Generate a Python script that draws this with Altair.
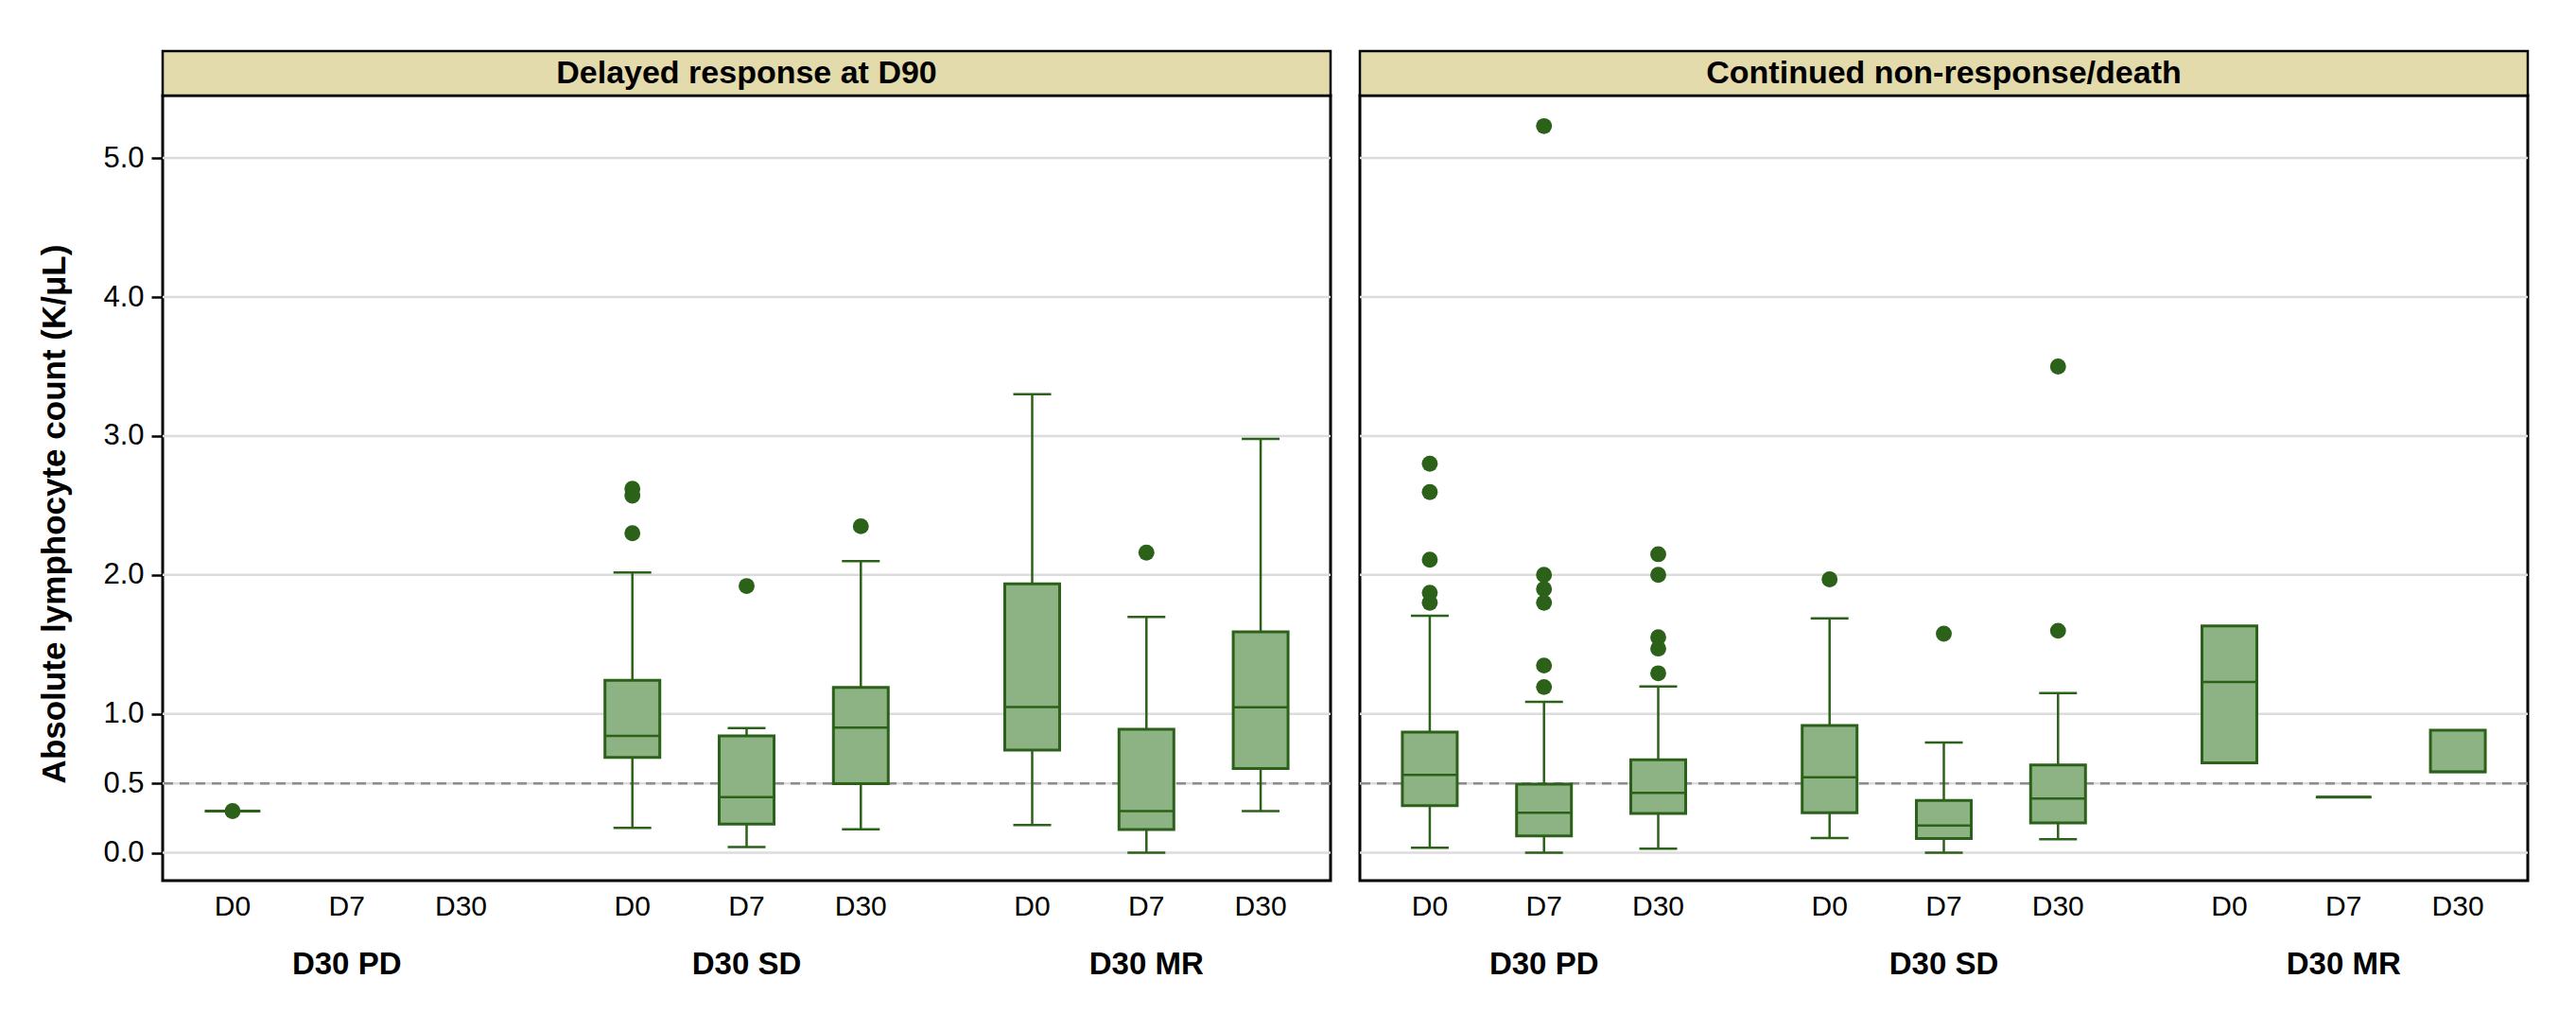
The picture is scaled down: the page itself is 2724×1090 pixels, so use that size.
import altair as alt
import pandas as pd

FONT = "Liberation Sans"
GROUPS = ["D30 PD", "D30 SD", "D30 MR"]
DAYS = ["D0", "D7", "D30"]
PANEL_TITLES = ["Delayed response at D90", "Continued non-response/death"]
Y_TICKS = [0.0, 0.5, 1.0, 2.0, 3.0, 4.0, 5.0]
THRESHOLD = [0.5]

# ---- Panel 1: Delayed response at D90 (box summaries) ----
P1_GROUP = ["D30 PD", "D30 SD", "D30 SD", "D30 SD", "D30 MR", "D30 MR", "D30 MR"]
P1_DAY = ["D0", "D0", "D7", "D30", "D0", "D7", "D30"]
P1_LO = [None, 0.18, 0.042, 0.17, 0.20, 0.0, 0.30]
P1_Q1 = [0.30, 0.687, 0.206, 0.497, 0.74, 0.167, 0.607]
P1_MED = [0.30, 0.841, 0.40, 0.901, 1.049, 0.30, 1.047]
P1_Q3 = [0.30, 1.242, 0.841, 1.19, 1.935, 0.89, 1.591]
P1_HI = [None, 2.018, 0.898, 2.099, 3.30, 1.698, 2.979]
P1_OUT_GROUP = ["D30 PD", "D30 SD", "D30 SD", "D30 SD", "D30 SD", "D30 SD", "D30 MR"]
P1_OUT_DAY = ["D0", "D0", "D0", "D0", "D7", "D30", "D7"]
P1_OUT = [0.30, 2.62, 2.57, 2.30, 1.92, 2.35, 2.16]

# ---- Panel 2: Continued non-response/death (box summaries) ----
P2_GROUP = ["D30 PD", "D30 PD", "D30 PD", "D30 SD", "D30 SD", "D30 SD", "D30 MR", "D30 MR", "D30 MR"]
P2_DAY = ["D0", "D7", "D30", "D0", "D7", "D30", "D0", "D7", "D30"]
P2_LO = [0.037, 0.0, 0.03, 0.107, 0.0, 0.098, None, None, None]
P2_Q1 = [0.34, 0.122, 0.284, 0.288, 0.103, 0.216, 0.647, 0.40, 0.583]
P2_MED = [0.561, 0.288, 0.432, 0.543, 0.196, 0.39, 1.23, 0.40, 0.583]
P2_Q3 = [0.868, 0.495, 0.67, 0.916, 0.377, 0.633, 1.632, 0.40, 0.883]
P2_HI = [1.706, 1.086, 1.198, 1.688, 0.794, 1.149, None, None, None]
P2_OUT_GROUP = ["D30 PD"] * 5 + ["D30 PD"] * 6 + ["D30 PD"] * 5 + ["D30 SD", "D30 SD", "D30 SD", "D30 SD"]
P2_OUT_DAY = ["D0"] * 5 + ["D7"] * 6 + ["D30"] * 5 + ["D0", "D7", "D30", "D30"]
P2_OUT = [2.80, 2.596, 2.109, 1.872, 1.80,
          5.23, 2.0, 1.898, 1.80, 1.348, 1.193,
          2.149, 2.0, 1.551, 1.47, 1.292,
          1.968, 1.577, 3.50, 1.598]

W, H = 1235, 830
STRIP_H = 47
DARK = "#2b6119"
FILL = "#8db284"
STRIP_FILL = "#e3dbab"
GRID = "#dcdcdc"


def panel(title, groups, days, lo, q1, med, q3, hi, og, od, ov, show_y):
    boxes = pd.DataFrame({"group": groups, "day": days, "lo": lo, "q1": q1,
                          "med": med, "q3": q3, "hi": hi})
    outs = pd.DataFrame({"group": og, "day": od, "value": ov})
    grid = pd.DataFrame([(g, d) for g in GROUPS for d in DAYS], columns=["group", "day"])
    ref = pd.DataFrame({"ref": THRESHOLD})
    ticks = pd.DataFrame({"tick": Y_TICKS})
    head = pd.DataFrame({"title": [title]})

    X = alt.X("group:N", sort=GROUPS,
              scale=alt.Scale(domain=GROUPS, paddingInner=0.1429, paddingOuter=0.032),
              axis=alt.Axis(title=None, ticks=False, domain=False, labelAngle=0,
                            labelFontSize=33, labelFontWeight="bold", labelColor="black",
                            labelPadding=72, labelFont=FONT))
    XO = alt.XOffset("day:N", sort=DAYS,
                     scale=alt.Scale(domain=DAYS, paddingInner=0, paddingOuter=0))
    ys = alt.Scale(domain=[-0.2, 5.45], nice=False, zero=False)
    if show_y:
        yax = alt.Axis(values=Y_TICKS, format=".1f", title="Absolute lymphocyte count (K/\u03bcL)",
                       titleFontSize=35, titleFontWeight="bold", titleFont=FONT,
                       titleColor="black", titlePadding=33, titleY=H / 2 + 27,
                       labelFontSize=31, labelFont=FONT, labelColor="black", labelPadding=8,
                       tickSize=12, tickWidth=2.5, tickColor="black",
                       domain=False, grid=False)
    else:
        yax = None

    def Y(field):
        return alt.Y(field, scale=ys, axis=yax)

    gridlines = alt.Chart(ticks).mark_rule(color=GRID, strokeWidth=2.5).encode(y=Y("tick:Q"))
    refline = alt.Chart(ref).mark_rule(color="#8c8c8c", strokeWidth=2.5, strokeDash=[10, 7]).encode(
        y=Y("ref:Q"))
    whisk = alt.Chart(boxes).transform_filter("isValid(datum.lo)").mark_rule(
        color=DARK, strokeWidth=2.5).encode(x=X, xOffset=XO, y=Y("lo:Q"), y2="hi:Q")
    cap_lo = alt.Chart(boxes).transform_filter("isValid(datum.lo)").mark_tick(
        color=DARK, size=40, thickness=2.5, opacity=1).encode(x=X, xOffset=XO, y=Y("lo:Q"))
    cap_hi = alt.Chart(boxes).transform_filter("isValid(datum.hi)").mark_tick(
        color=DARK, size=40, thickness=2.5, opacity=1).encode(x=X, xOffset=XO, y=Y("hi:Q"))
    box = alt.Chart(boxes).mark_bar(fill=FILL, stroke=DARK, strokeWidth=3, size=58,
                                    opacity=1).encode(x=X, xOffset=XO, y=Y("q1:Q"), y2="q3:Q")
    median = alt.Chart(boxes).mark_tick(color=DARK, size=59, thickness=2.5, opacity=1).encode(
        x=X, xOffset=XO, y=Y("med:Q"))
    pts = alt.Chart(outs).mark_circle(color=DARK, size=285, opacity=1).encode(
        x=X, xOffset=XO, y=Y("value:Q"))
    daylab = alt.Chart(grid).mark_text(fontSize=30, font=FONT, color="black",
                                       baseline="middle", align="center").encode(
        x=X, xOffset=XO, y=alt.value(H + 28), text="day:N")
    strip = alt.Chart(head).mark_rect(fill=STRIP_FILL, stroke="black", strokeWidth=2.5).encode(
        x=alt.value(0), x2=alt.value(W), y=alt.value(-STRIP_H), y2=alt.value(0))
    striptext = alt.Chart(head).mark_text(fontSize=34, font=FONT, fontWeight="bold",
                                          color="black", baseline="middle", align="center").encode(
        x=alt.value(W / 2), y=alt.value(-STRIP_H / 2), text="title:N")

    return alt.layer(gridlines, refline, whisk, cap_lo, cap_hi, box, median, pts, daylab, strip,
                     striptext).properties(width=W, height=H)


p1 = panel(PANEL_TITLES[0], P1_GROUP, P1_DAY, P1_LO, P1_Q1, P1_MED, P1_Q3, P1_HI,
           P1_OUT_GROUP, P1_OUT_DAY, P1_OUT, True)
p2 = panel(PANEL_TITLES[1], P2_GROUP, P2_DAY, P2_LO, P2_Q1, P2_MED, P2_Q3, P2_HI,
           P2_OUT_GROUP, P2_OUT_DAY, P2_OUT, False)

chart = alt.hconcat(p1, p2, spacing=25).resolve_scale(y="independent").properties(
    padding={"left": 31, "top": 43, "right": 5, "bottom": 5},
    background="white",
).configure_view(stroke="black", strokeWidth=3)

chart.save("out.html", embed_options={"renderer": "svg", "actions": False})
